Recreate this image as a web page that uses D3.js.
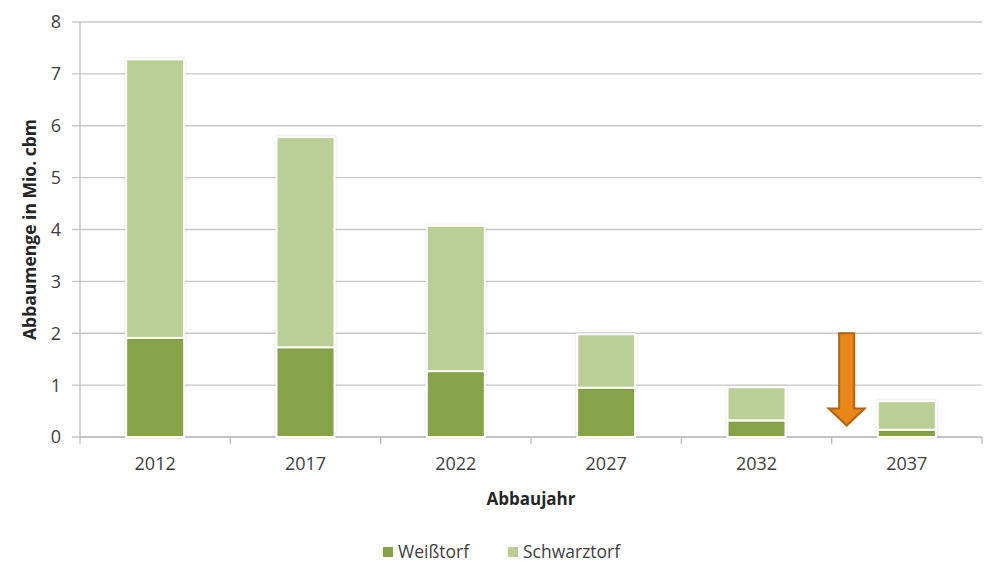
<!DOCTYPE html>
<html>
<head>
<meta charset="utf-8">
<script src="https://cdn.jsdelivr.net/npm/d3@7"></script>
<style>
  body { margin: 0; background: #fff; }
  svg { display: block; font-family: "Open Sans", sans-serif; }
</style>
</head>
<body>
<svg id="chart" width="990" height="565"></svg>
<script>
// data
const years = ['2012', '2017', '2022', '2027', '2032', '2037']
const weisstorf = [1.91, 1.73, 1.27, 0.95, 0.32, 0.14]
const schwarztorf = [5.37, 4.05, 2.80, 1.03, 0.64, 0.55]
const seriesNames = ['Weißtorf', 'Schwarztorf']
const seriesColors = ['#86a34a', '#b9cf96']
const yTicks = [0, 1, 2, 3, 4, 5, 6, 7, 8]
// arrow annotation: from value 2.0 down to 0.22, just inside the 2037 slot
const arrowFrom = 2.0
const arrowTo = 0.22
const arrowHeadStart = 0.55

const margin = {left: 80, right: 8, top: 22, bottom: 128}
const width = 990 - margin.left - margin.right
const height = 565 - margin.top - margin.bottom

const svg = d3.select('#chart')
const defs = svg.append('defs')
const shadow = defs.append('filter').attr('id', 'shadow')
  .attr('x', '-20%').attr('y', '-20%').attr('width', '140%').attr('height', '140%')
shadow.append('feDropShadow')
  .attr('dx', 0).attr('dy', 0).attr('stdDeviation', 1.2)
  .attr('flood-color', '#000').attr('flood-opacity', 0.18)

const canvas = svg.append('g').attr('transform', `translate(${margin.left}, ${margin.top})`)

const x = d3.scaleBand().domain(years).range([0, width]).paddingInner(0).paddingOuter(0)
const y = d3.scaleLinear().domain([0, 8]).range([height, 0])
const barW = 58

// gridlines
canvas.append('g').selectAll('line')
  .data(yTicks)
  .enter().append('line')
  .attr('x1', -8).attr('x2', width)
  .attr('y1', d => y(d)).attr('y2', d => y(d))
  .style('stroke', '#c9c9c9').style('stroke-width', 1.3)

// y axis line + labels
canvas.append('line')
  .attr('x1', 0).attr('x2', 0).attr('y1', 0).attr('y2', height)
  .style('stroke', '#bdbdbd').style('stroke-width', 1.3)
canvas.append('g').selectAll('text')
  .data(yTicks)
  .enter().append('text')
  .attr('x', -19).attr('y', d => y(d)).attr('dy', '0.36em')
  .attr('text-anchor', 'end')
  .style('font-size', '18px').style('fill', '#404040')
  .text(d => d)

// x axis line + ticks at band boundaries
canvas.append('line')
  .attr('x1', 0).attr('x2', width).attr('y1', height).attr('y2', height)
  .style('stroke', '#bdbdbd').style('stroke-width', 1.3)
const bounds = years.map(d => x(d)).concat([width])
canvas.append('g').selectAll('line')
  .data(bounds)
  .enter().append('line')
  .attr('x1', d => d).attr('x2', d => d).attr('y1', height).attr('y2', height + 7)
  .style('stroke', '#bdbdbd').style('stroke-width', 1.3)
canvas.append('g').selectAll('text')
  .data(years)
  .enter().append('text')
  .attr('x', d => x(d) + x.bandwidth() / 2).attr('y', height + 27)
  .attr('dy', '0.36em').attr('text-anchor', 'middle')
  .style('font-size', '18px').style('fill', '#404040')
  .text(d => d)

// stacked bars
const rows = years.map((yr, i) => ({year: yr, Weißtorf: weisstorf[i], Schwarztorf: schwarztorf[i]}))
const stacked = d3.stack().keys(seriesNames)(rows)
canvas.append('g').selectAll('g')
  .data(stacked)
  .enter().append('g')
  .style('fill', (d, i) => seriesColors[i])
  .selectAll('rect')
  .data(d => d)
  .enter().append('rect')
  .attr('x', d => x(d.data.year) + (x.bandwidth() - barW) / 2)
  .attr('width', barW)
  .attr('y', d => y(d[1]))
  .attr('height', d => y(d[0]) - y(d[1]))
  .style('stroke', '#fff').style('stroke-width', 2)
  .attr('filter', 'url(#shadow)')

// orange arrow
const ax = x('2037') + 15
const shaftW = 15
const headW = 36
const arrowPts = [
  [ax - shaftW / 2, y(arrowFrom)],
  [ax + shaftW / 2, y(arrowFrom)],
  [ax + shaftW / 2, y(arrowHeadStart)],
  [ax + headW / 2, y(arrowHeadStart)],
  [ax, y(arrowTo)],
  [ax - headW / 2, y(arrowHeadStart)],
  [ax - shaftW / 2, y(arrowHeadStart)]
]
canvas.append('path')
  .attr('d', d3.line()(arrowPts) + 'Z')
  .style('fill', '#e8861a').style('stroke', '#b5620f').style('stroke-width', 2)
  .style('stroke-linejoin', 'miter')

// axis titles
canvas.append('text')
  .attr('transform', `translate(-50, ${height / 2}) rotate(-90)`)
  .attr('text-anchor', 'middle').attr('dy', '0.36em')
  .style('font-size', '17.5px').style('font-weight', 'bold').style('fill', '#262626')
  .text('Abbaumenge in Mio. cbm')
canvas.append('text')
  .attr('x', width / 2).attr('y', height + 62).attr('dy', '0.36em')
  .attr('text-anchor', 'middle')
  .style('font-size', '17px').style('font-weight', 'bold').style('fill', '#262626')
  .text('Abbaujahr')

// legend
const legend = svg.append('g').attr('transform', 'translate(383, 552)')
const legendX = [0, 125]
seriesNames.forEach((name, i) => {
  legend.append('rect')
    .attr('x', legendX[i]).attr('y', -5).attr('width', 10).attr('height', 10)
    .style('fill', seriesColors[i])
  legend.append('text')
    .attr('x', legendX[i] + 15).attr('y', 0).attr('dy', '0.36em')
    .style('font-size', '17.5px').style('fill', '#404040')
    .text(name)
})
</script>
</body>
</html>
